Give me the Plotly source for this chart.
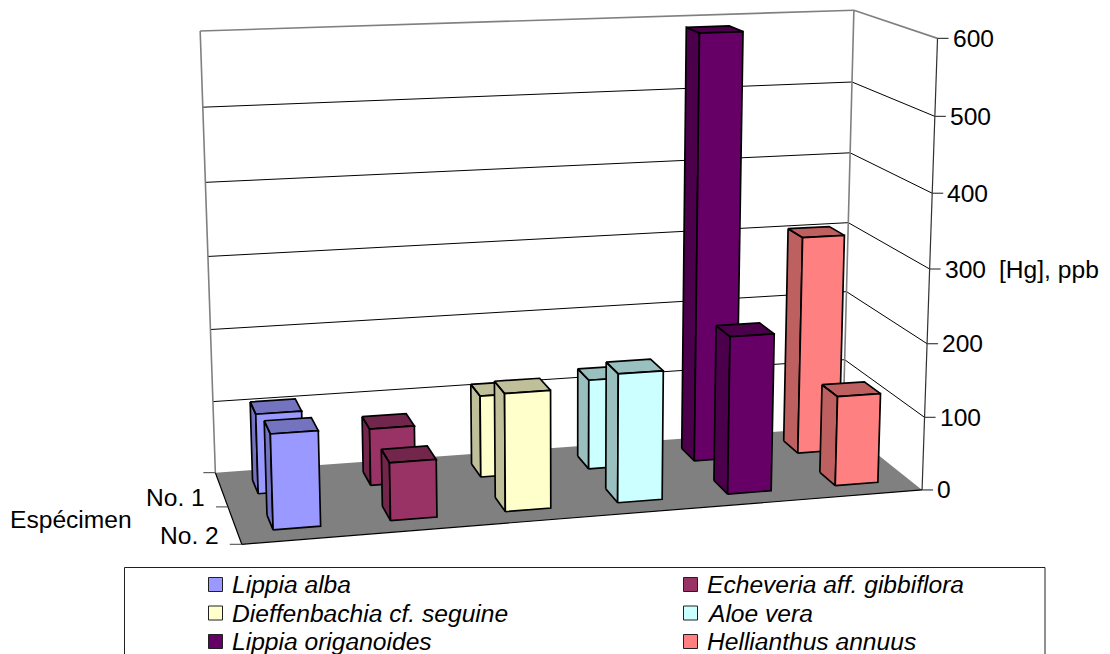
import numpy as np
import plotly.graph_objects as go

# Mercury content per species and specimen
species = ["Lippia alba", "Echeveria aff. gibbiflora", "Dieffenbachia cf. seguine",
           "Aloe vera", "Lippia origanoides", "Hellianthus annuus"]
specimens = ["No. 1", "No. 2"]
specimen_1 = [109, 78, 113, 125, 590, 306]
specimen_2 = [126, 77, 158, 174, 214, 123]
value_ticks = [0, 100, 200, 300, 400, 500, 600]
front_colors = ["#9999FF", "#993366", "#FFFFCC", "#CCFFFF", "#660066", "#FF8080"]
value_title = "[Hg], ppb"
depth_title = "Espécimen"

W, H = 1110, 654
FONT = "Liberation Sans, Arial, sans-serif"
TEXT_SIZE = 24.6
ZMAX = value_ticks[-1]

# Perspective camera of the chart box, calibrated on the frame corners and
# axis ticks: (across, depth, value) -> page position. depth 0 is the back wall.
CAMERA_POINTS = [
    ((0, 0, 600), (200, 31)), ((1, 0, 600), (854.3, 10.7)), ((1, 1, 600), (937.7, 38.3)),
    ((1, 1, 0), (922.3, 490)), ((0, 1, 0), (241.7, 545)), ((0, 0, 0), (215, 471.7)),
    ((1, 0, 0), (843, 428)), ((0, 0, 100), (213.3, 401.7)), ((0, 0, 500), (202.7, 107.3)),
    ((1, 0, 500), (851.7, 81.7)), ((1, 0, 300), (848.3, 222.7)), ((1, 0, 200), (846, 290.7)),
    ((1, 0, 100), (845, 360)), ((1, 1, 500), (935, 116.7)), ((1, 1, 200), (926.7, 343.3)),
    ((1, 1, 100), (924.3, 416.7)), ((0, 0.5, 0), (228.3, 507)),
]


def fit_camera(points):
    rows = []
    for (a, d, v), (px, py) in points:
        q = [a, d, v / ZMAX, 1]
        rows.append(q + [0, 0, 0, 0] + [-px * c for c in q])
        rows.append([0, 0, 0, 0] + q + [-py * c for c in q])
    return np.linalg.svd(np.array(rows, float))[2][-1].reshape(3, 4)


CAM = fit_camera(CAMERA_POINTS)


def project(a, d, v):
    u = CAM @ np.array([a, d, v / ZMAX, 1.0])
    return u[0] / u[2], u[1] / u[2]


def polys(*faces):
    """Join projected faces into one path, separated by gaps."""
    xs, ys = [], []
    for face in faces:
        pts = [project(*p) for p in face]
        pts.append(pts[0])
        xs += [p[0] for p in pts] + [None]
        ys += [p[1] for p in pts] + [None]
    return xs, ys


def shade(hex_color, k=0.75):
    r, g, b = (int(hex_color[i:i + 2], 16) for i in (1, 3, 5))
    return f"rgb({r * k:.0f},{g * k:.0f},{b * k:.0f})"


fig = go.Figure()


def polygon(faces, fill, line=None, width=0):
    xs, ys = polys(*faces)
    fig.add_trace(go.Scatter(x=xs, y=ys, mode="lines", fill="toself", fillcolor=fill,
                             line=dict(color=line or fill, width=width),
                             hoverinfo="skip", showlegend=False))


def segment(a, b, color, width):
    xs, ys = zip(project(*a), project(*b))
    fig.add_trace(go.Scatter(x=xs, y=ys, mode="lines", line=dict(color=color, width=width),
                             hoverinfo="skip", showlegend=False))


# Floor
polygon([[(0, 0, 0), (1, 0, 0), (1, 1, 0), (0, 1, 0)]], "#808080")

# Gridlines on the back and side walls
for t in value_ticks[1:-1]:
    segment((0, 0, t), (1, 0, t), "#000000", 1)
    segment((1, 0, t), (1, 1, t), "#000000", 1)

# Wall outlines
for a, b in [((0, 0, 0), (0, 0, ZMAX)), ((0, 0, ZMAX), (1, 0, ZMAX)),
             ((1, 0, 0), (1, 0, ZMAX)), ((1, 0, ZMAX), (1, 1, ZMAX))]:
    segment(a, b, "#808080", 1.6)

# Axis lines
segment((1, 1, 0), (1, 1, ZMAX), "#303030", 1.2)
segment((0, 0, 0), (0, 1, 0), "#000000", 1.2)
segment((0, 1, 0), (1, 1, 0), "#000000", 1.2)

annotations = []


def label(x, y, text, anchor="left", size=TEXT_SIZE, italic=False):
    annotations.append(dict(x=x, y=y, text=text, xref="x", yref="y", showarrow=False,
                            xanchor=anchor, yanchor="middle", xshift=0, yshift=0,
                            borderpad=0, borderwidth=0,
                            font=dict(family=FONT, size=size, color="#000000",
                                      style="italic" if italic else "normal")))


# Value axis ticks and labels
for t in value_ticks:
    px, py = project(1, 1, t)
    fig.add_trace(go.Scatter(x=[px, px + 11], y=[py, py], mode="lines",
                             line=dict(color="#404040", width=1.2),
                             hoverinfo="skip", showlegend=False))
    label(px + 15, py, str(t))
px, py = project(1, 1, 300)
label(px + 69, py, value_title)

# Depth axis ticks and labels
for d, name in zip((0, 0.5, 1), [None] + specimens):
    px, py = project(0, d, 0)
    fig.add_trace(go.Scatter(x=[px - 12, px], y=[py, py], mode="lines",
                             line=dict(color="#404040", width=1),
                             hoverinfo="skip", showlegend=False))
    if name:
        label(px - 23, py - 9, name, anchor="right")
label(10, 519, depth_title)

# Bars, drawn from the back row forward
BAR_HALF_WIDTH = 0.0335
BAR_HALF_DEPTH = 0.1
for row, values in enumerate((specimen_1, specimen_2)):
    d0 = (row + 0.5) / 2 - BAR_HALF_DEPTH
    d1 = (row + 0.5) / 2 + BAR_HALF_DEPTH
    for i, (value, color) in enumerate(zip(values, front_colors)):
        a0 = (i + 0.5) / len(species) - BAR_HALF_WIDTH
        a1 = (i + 0.5) / len(species) + BAR_HALF_WIDTH
        side = [(a0, d0, 0), (a0, d1, 0), (a0, d1, value), (a0, d0, value)]
        top = [(a0, d0, value), (a1, d0, value), (a1, d1, value), (a0, d1, value)]
        front = [(a0, d1, 0), (a1, d1, 0), (a1, d1, value), (a0, d1, value)]
        polygon([side, top], shade(color), "#000000", 1.7)
        polygon([front], color, "#000000", 1.7)

# Legend box, open at the page edge
fig.add_shape(type="rect", x0=124.5, x1=1045, y0=567.5, y1=670, xref="x", yref="y",
              line=dict(color="#202020", width=1), fillcolor="rgba(0,0,0,0)")
legend_x = [215.5, 690.5]
legend_y = [584.5, 613, 641.5]
for k, (name, color) in enumerate(zip(species, front_colors)):
    x = legend_x[k % 2]
    y = legend_y[k // 2]
    fig.add_trace(go.Scatter(x=[x], y=[y], mode="markers", name=name,
                             marker=dict(symbol="square", size=14, color=color,
                                         line=dict(color="#202020", width=1)),
                             hoverinfo="skip", showlegend=False))
    label(x + 16, y, name, size=TEXT_SIZE, italic=True)

fig.update_layout(
    width=W, height=H, margin=dict(l=0, r=0, t=0, b=0),
    paper_bgcolor="#FFFFFF", plot_bgcolor="#FFFFFF", showlegend=False,
    xaxis=dict(range=[0, W], visible=False, fixedrange=True),
    yaxis=dict(range=[H, 0], visible=False, fixedrange=True),
    annotations=annotations,
)
fig.write_html("out.html", config=dict(displayModeBar=False))
